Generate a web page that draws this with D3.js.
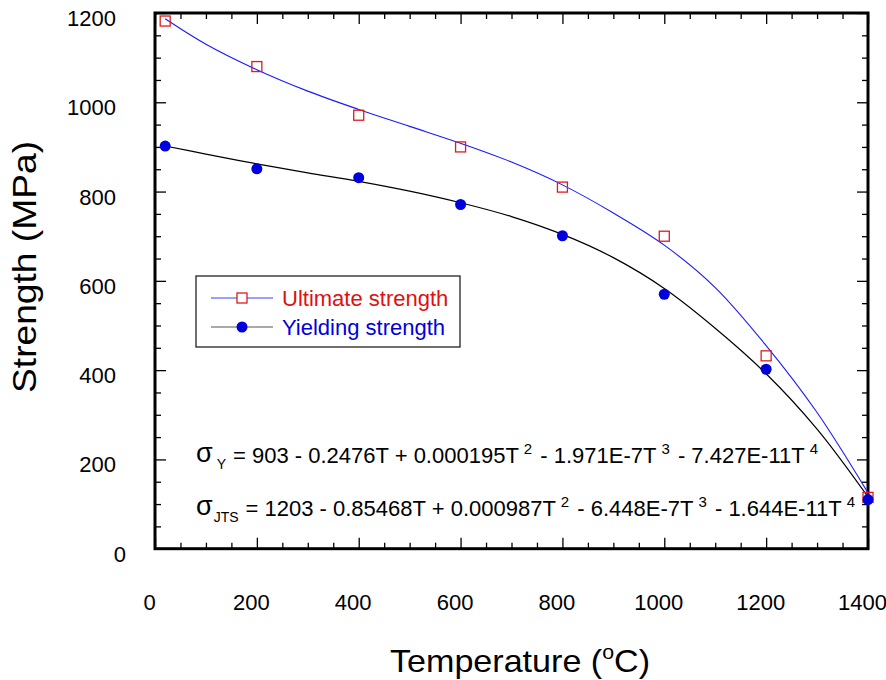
<!DOCTYPE html>
<html>
<head>
<meta charset="utf-8">
<script src="https://cdn.jsdelivr.net/npm/d3@7"></script>
<style>
  html, body { margin: 0; padding: 0; background: #fff; }
  svg { display: block; font-family: "Liberation Sans", Arial, sans-serif; }
</style>
</head>
<body>
<svg id="chart" width="886" height="680"></svg>
<script>
// Measured temperatures (°C) and strengths (MPa)
const temps = [20, 200, 400, 600, 800, 1000, 1200, 1400];
const ultimateStrength = [1182, 1080, 971, 900, 810, 700, 432, 115];
const yieldStrength = [902, 851, 831, 771, 701, 570, 402, 110];

// Fitted trend curves, sampled along temperature
const fitTemps = [20, 100, 200, 300, 400, 500, 600, 700, 800, 900, 1000, 1100, 1200, 1300, 1400];
const ultimateFit = [1187, 1130, 1073, 1025, 984, 946, 908, 866, 815, 752, 680, 585, 455, 305, 125];
const yieldFit = [902, 884, 862, 842, 823, 801, 775, 744, 704, 652, 583, 494, 392, 268, 116];

// Axis ticks
const xTicks = [0, 200, 400, 600, 800, 1000, 1200, 1400];
const yTicks = [0, 200, 400, 600, 800, 1000, 1200];
const xMinor = d3.range(0, 1401, 50).filter(v => v % 200 !== 0);
const yMinor = d3.range(0, 1201, 50).filter(v => v % 200 !== 0);

const svg = d3.select("#chart");
const plotL = 155, plotR = 868, plotT = 13, plotB = 548.7;

const x = d3.scaleLinear().domain([0, 1400]).range([plotL, plotR]);
const y = d3.scaleLinear().domain([0, 1200]).range([plotB, plotT]);
const fmt = d3.format("d");

// Inward tick marks on all four sides
function ticks(axisGen, vals, size, tx, ty) {
  const g = svg.append("g")
    .attr("transform", `translate(${tx},${ty})`)
    .call(axisGen.tickValues(vals).tickSize(-size).tickFormat(""));
  g.select(".domain").remove();
  g.selectAll(".tick line").attr("stroke", "#000").attr("stroke-width", 1.3);
  return g;
}
ticks(d3.axisBottom(x), xTicks, 11, 0, plotB);
ticks(d3.axisBottom(x), xMinor, 6, 0, plotB);
ticks(d3.axisTop(x), xTicks, 11, 0, plotT);
ticks(d3.axisTop(x), xMinor, 6, 0, plotT);
ticks(d3.axisLeft(y), yTicks, 11, plotL, 0);
ticks(d3.axisLeft(y), yMinor, 6, plotL, 0);
ticks(d3.axisRight(y), yTicks, 11, plotR, 0);
ticks(d3.axisRight(y), yMinor, 6, plotR, 0);

// Tick labels
const xl = svg.append("g")
  .attr("transform", `translate(-6,${plotB})`)
  .call(d3.axisBottom(x).tickValues(xTicks).tickFormat(fmt).tickSize(0).tickPadding(45.5));
xl.select(".domain").remove();
xl.selectAll("text").attr("font-size", 22).attr("fill", "#000")
  .attr("font-family", "Liberation Sans, Arial, sans-serif");

const yl = svg.append("g")
  .attr("transform", `translate(${plotL},5.5)`)
  .call(d3.axisLeft(y).tickValues(yTicks).tickFormat(fmt).tickSize(0).tickPadding(39));
yl.select(".domain").remove();
yl.selectAll("text").attr("font-size", 22).attr("fill", "#000")
  .attr("font-family", "Liberation Sans, Arial, sans-serif");
yl.selectAll(".tick").filter(d => d === 0).select("text").attr("dx", 10);

// Plot frame
svg.append("rect")
  .attr("x", plotL).attr("y", plotT)
  .attr("width", plotR - plotL).attr("height", plotB - plotT)
  .attr("fill", "none").attr("stroke", "#000").attr("stroke-width", 3);

// Trend curves
const line = d3.line().x(d => x(d[0])).y(d => y(d[1])).curve(d3.curveCatmullRom.alpha(0.5));
svg.append("path")
  .datum(fitTemps.map((t, i) => [t, ultimateFit[i]]))
  .attr("d", line).attr("fill", "none").attr("stroke", "#1a1aff").attr("stroke-width", 1.1);
svg.append("path")
  .datum(fitTemps.map((t, i) => [t, yieldFit[i]]))
  .attr("d", line).attr("fill", "none").attr("stroke", "#000").attr("stroke-width", 1.2);

// Markers
const sq = 10;
svg.append("g").selectAll("rect")
  .data(temps.map((t, i) => [t, ultimateStrength[i]]))
  .join("rect")
  .attr("x", d => x(d[0]) - sq / 2).attr("y", d => y(d[1]) - sq / 2)
  .attr("width", sq).attr("height", sq)
  .attr("fill", "none").attr("stroke", "#e01b1b").attr("stroke-width", 1.3);
svg.append("g").selectAll("circle")
  .data(temps.map((t, i) => [t, yieldStrength[i]]))
  .join("circle")
  .attr("cx", d => x(d[0])).attr("cy", d => y(d[1])).attr("r", 5.5)
  .attr("fill", "#0000dd");

// Legend
const lg = svg.append("g");
lg.append("rect").attr("x", 196).attr("y", 276).attr("width", 264).attr("height", 71)
  .attr("fill", "#fff").attr("stroke", "#222").attr("stroke-width", 1.3);
lg.append("line").attr("x1", 211).attr("x2", 273).attr("y1", 298).attr("y2", 298)
  .attr("stroke", "#3344ff").attr("stroke-width", 1.2);
lg.append("rect").attr("x", 242 - 5).attr("y", 298 - 5).attr("width", 10).attr("height", 10)
  .attr("fill", "#fff").attr("stroke", "#e01b1b").attr("stroke-width", 1.3);
lg.append("text").attr("x", 282).attr("y", 305.5).attr("font-size", 22)
  .attr("fill", "#e01010").text("Ultimate strength");
lg.append("line").attr("x1", 211).attr("x2", 273).attr("y1", 327).attr("y2", 327)
  .attr("stroke", "#555").attr("stroke-width", 1.2);
lg.append("circle").attr("cx", 242).attr("cy", 327).attr("r", 5.5).attr("fill", "#0000dd");
lg.append("text").attr("x", 282).attr("y", 334.5).attr("font-size", 22)
  .attr("fill", "#0000dd").text("Yielding strength");

// Regression equations
function equation(xPos, yBase, sub, subGap, afterGap, parts) {
  const t = svg.append("text").attr("x", xPos).attr("y", yBase)
    .attr("font-size", 22).attr("fill", "#000");
  t.append("tspan").attr("font-size", 27).attr("dy", -1).text("σ");
  t.append("tspan").attr("font-size", 14).attr("dx", subGap).attr("dy", 7).text(sub);
  t.append("tspan").attr("dx", afterGap).attr("dy", -6).text(parts[0]);
  for (let i = 1; i < parts.length; i += 2) {
    t.append("tspan").attr("font-size", 15).attr("dx", 5).attr("dy", -9).text(parts[i]);
    t.append("tspan").attr("dx", 2).attr("dy", 9).text(parts[i + 1]);
  }
  return t;
}
equation(196, 463, "Y", 4, 7, [
  "= 903 - 0.2476T + 0.000195T", "2", " - 1.971E-7T", "3", " - 7.427E-11T", "4", ""
]);
equation(196, 516, "JTS", 1, 7, [
  "= 1203 - 0.85468T + 0.000987T", "2", " - 6.448E-7T", "3", " - 1.644E-11T", "4", ""
]);

// Axis titles
const xt = svg.append("text").attr("x", 520).attr("y", 672)
  .attr("text-anchor", "middle").attr("font-size", 32).attr("fill", "#000")
  .attr("textLength", 260).attr("lengthAdjust", "spacingAndGlyphs");
xt.append("tspan").text("Temperature (");
xt.append("tspan").attr("font-size", 20).attr("dy", -13).text("o");
xt.append("tspan").attr("dy", 13).text("C)");

svg.append("text")
  .attr("transform", "translate(36,267) rotate(-90)")
  .attr("text-anchor", "middle").attr("font-size", 33).attr("fill", "#000")
  .attr("textLength", 252).attr("lengthAdjust", "spacingAndGlyphs")
  .text("Strength (MPa)");
</script>
</body>
</html>
